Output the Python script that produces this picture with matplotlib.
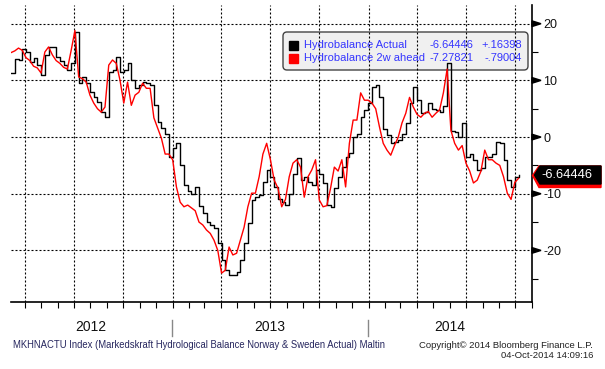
import matplotlib
matplotlib.use('Agg')
import matplotlib.pyplot as plt
import pandas as pd
import matplotlib.dates as mdates
from matplotlib.patches import FancyBboxPatch, Polygon, Rectangle
from matplotlib.lines import Line2D
from matplotlib.transforms import Affine2D, blended_transform_factory
from matplotlib.ticker import FixedLocator, FixedFormatter

plt.rcParams['font.family'] = ['Liberation Sans', 'DejaVu Sans']

start_date = '2012-03-06'
actual = [11.3, 13.8, 13.6, 15.5, 15.0, 13.2, 13.9, 12.7, 11.0, 14.5,
          15.9, 15.9, 14.1, 13.5, 12.7, 11.8, 13.0, 18.5, 9.5, 10.6,
          9.5, 8.0, 7.0, 6.2, 4.4, 3.5, 11.5, 11.8, 14.1, 11.5,
          11.8, 13.0, 10.0, 8.6, 9.2, 9.7, 9.5, 9.2, 5.6, 2.6,
          1.6, 0.5, -3.5, -2.0, -1.0, -4.9, -8.5, -9.5, -10.0, -8.8,
          -12.2, -13.4, -15.0, -15.5, -16.0, -18.7, -21.7, -23.5, -24.3, -24.3,
          -23.8, -21.7, -18.7, -15.2, -11.1, -10.5, -10.2, -8.0, -5.8, -7.0,
          -8.8, -11.0, -11.5, -12.0, -10.0, -6.5, -3.7, -7.6, -7.0, -8.0,
          -8.5, -5.8, -6.5, -8.1, -12.0, -12.3, -9.0, -7.0, -5.3, -3.5,
          -2.8, 0.0, 0.5, 3.5, 4.8, 6.0, 8.8, 9.2, 7.0, 1.5,
          0.3, -1.1, -0.8, -0.5, 0.5, 2.4, 6.0, 8.8, 6.5, 4.2,
          4.5, 6.0, 5.0, 4.8, 4.5, 5.5, 13.0, 1.0, 0.9, 0.0,
          2.4, -3.5, -3.0, -4.0, -5.8, -5.5, -3.5, -3.5, -3.0, -0.9,
          -1.0, -4.0, -7.6, -8.8, -7.0, -6.64446]
ahead = [14.9, 15.2, 15.7, 15.3, 14.0, 13.5, 12.5, 12.2, 11.3, 15.0,
         15.9, 14.5, 13.5, 13.0, 12.3, 12.0, 15.3, 18.8, 10.6, 10.3,
         9.7, 7.4, 6.0, 5.0, 4.4, 5.3, 12.7, 13.6, 13.0, 10.0,
         6.0, 9.7, 5.6, 7.4, 7.9, 9.5, 8.6, 8.6, 3.4, 1.6,
         -0.2, -3.0, -3.0, -4.0, -8.8, -11.5, -12.3, -12.0, -12.5, -13.0,
         -15.0, -15.5, -16.4, -17.0, -18.2, -20.0, -24.0, -23.5, -19.4, -20.8,
         -20.5, -18.2, -15.9, -12.3, -9.9, -9.9, -7.0, -3.0, -1.1, -4.0,
         -7.6, -9.0, -12.3, -11.0, -7.0, -4.6, -4.0, -5.3, -10.6, -7.0,
         -5.8, -4.0, -11.1, -12.3, -12.1, -9.0, -5.3, -6.0, -4.0, -8.8,
         -1.1, 3.0, 3.0, 7.8, 6.5, 6.5, 6.0, 5.0, 1.8, -1.1,
         -2.3, -3.2, -1.5, 0.0, 2.5, 4.2, 7.0, 5.3, 4.0, 3.5,
         4.2, 4.5, 3.5, 4.2, 4.8, 7.8, 12.0, 1.2, -1.1, -2.3,
         -1.5, -4.6, -6.0, -8.1, -7.6, -6.0, -2.3, -4.0, -4.0, -4.6,
         -5.0, -7.0, -9.9, -11.0, -8.0, -7.27821]

y_major = [-20, -10, 0, 10, 20]
y_major_labels = ['-20', '-10', '0', '10', '20']
y_minor = [-25, -15, -5, 5, 15]
years = ['2012', '2013', '2014']
legend_names = ['Hydrobalance Actual', 'Hydrobalance 2w ahead']
legend_last = ['-6.64446', '-7.27821']
legend_chg = ['+.16398', '-.79004']
series_colors = ['#000000', '#ff0000']

dates = pd.date_range(start_date, periods=len(actual), freq='7D')

W, H = 605, 369
fig = plt.figure(figsize=(W / 100, H / 100), dpi=100)
pix = Affine2D().scale(1 / W, -1 / H).translate(0, 1) + fig.transFigure


def fx(x):
    return x / W


def fy(y):
    return 1 - y / H


ax = fig.add_axes([fx(11), fy(302), fx(532) - fx(11), fy(5) - fy(302)])
ax.set_xlim(pd.Timestamp('2012-03-06'), pd.Timestamp('2014-11-01'))
ax.set_ylim(-29.1, 23.3)

# grid
for q in pd.date_range('2012-04-01', '2014-10-01', freq='QS'):
    ax.axvline(q, color='k', lw=0.8, ls=(0, (1.8, 1.8)), zorder=1)
for v in y_major:
    ax.axhline(v, color='k', lw=0.8, ls=(0, (1.8, 1.8)), zorder=1)

# series
ax.plot(dates, actual, color=series_colors[0], lw=1.0, drawstyle='steps-post', zorder=3)
ax.plot(dates, ahead, color=series_colors[1], lw=1.0, zorder=4)

for s in ['left', 'top']:
    ax.spines[s].set_visible(False)
for s in ['right', 'bottom']:
    ax.spines[s].set_linewidth(1.2)
    ax.spines[s].set_zorder(5)

ax.xaxis.set_major_locator(mdates.MonthLocator())
ax.tick_params(axis='x', which='major', direction='out', length=4, width=0.8,
               labelbottom=False)

ax.yaxis.tick_right()
ax.yaxis.set_major_locator(FixedLocator(y_major))
ax.yaxis.set_major_formatter(FixedFormatter(y_major_labels))
ax.yaxis.set_minor_locator(FixedLocator(y_minor))
ax.tick_params(axis='y', which='major', length=0, pad=8, labelsize=9,
               labelcolor='#111111')
ax.tick_params(axis='y', which='minor', direction='out', length=4, width=0.8)

# arrow markers on major y ticks
bt = blended_transform_factory(ax.transAxes, ax.transData)
for v in y_major:
    ax.add_patch(Polygon([(1.0, v + 0.5), (1.0, v - 0.5), (1.0 + 9 / 521, v)],
                         closed=True, color='k', transform=bt, clip_on=False, zorder=6))

# year labels and separators
year_x = [91, 270, 450]
for yx, lab in zip(year_x, years):
    fig.text(fx(yx), fy(327), lab, ha='center', va='center', fontsize=10, color='#111111')
for sx in [172, 368]:
    fig.add_artist(Line2D([fx(sx), fx(sx)], [fy(320), fy(336)], color='#888888', lw=1))

# legend box (below lines)
ax.add_patch(FancyBboxPatch((283, 32), 245, 38,
                            boxstyle='round,pad=0,rounding_size=4',
                            facecolor='#f0f0f0', edgecolor='#444444', lw=1,
                            transform=pix, clip_on=False, zorder=0.8))
row_y = [45, 58]
for i in range(2):
    ax.add_patch(Rectangle((289, row_y[i] - 4.5), 9, 9, color=series_colors[i],
                           transform=pix, clip_on=False, zorder=1.2))
    ax.text(304, row_y[i], legend_names[i], transform=pix, ha='left', va='center',
            fontsize=8, color='#3535ff', zorder=1.2)
    ax.text(473, row_y[i], legend_last[i], transform=pix, ha='right', va='center',
            fontsize=8, color='#3535ff', zorder=1.2)
    ax.text(522, row_y[i], legend_chg[i], transform=pix, ha='right', va='center',
            fontsize=8, color='#3535ff', zorder=1.2)

# last value tag
fig.add_artist(Polygon([(532.5, 175.5), (539, 187.5), (601, 187.5), (601, 166), (539, 166)],
                       closed=True, color='#ff0000', transform=pix))
fig.add_artist(Polygon([(534.5, 175), (540, 166), (601, 166), (601, 184), (540, 184)],
                       closed=True, color='#000000', transform=pix))
fig.text(fx(567), fy(175), legend_last[0], ha='center', va='center', fontsize=9.3,
         color='white')

# footer
fig.text(fx(13), fy(345),
         'MKHNACTU Index (Markedskraft Hydrological Balance Norway & Sweden Actual) Maltin',
         ha='left', va='center', fontsize=6.85, color='#26265e')
fig.text(fx(593), fy(345), 'Copyright\u00a9 2014 Bloomberg Finance L.P.',
         ha='right', va='center', fontsize=6.8, color='#222222')
fig.text(fx(593), fy(356), '04-Oct-2014 14:09:16',
         ha='right', va='center', fontsize=6.8, color='#222222')

fig.savefig('out.png', dpi=100)
